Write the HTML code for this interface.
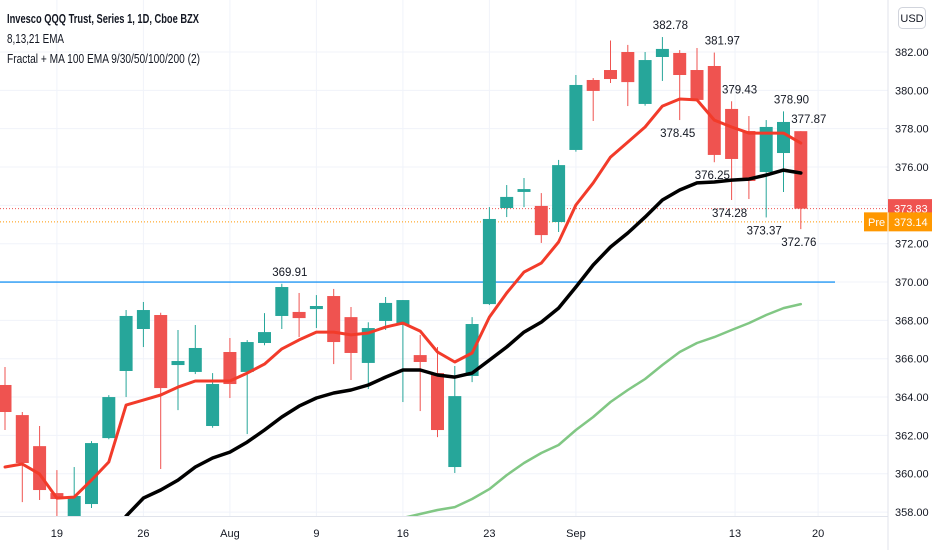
<!DOCTYPE html>
<html><head><meta charset="utf-8"><style>
html,body{margin:0;padding:0;background:#fff;}
svg{display:block;font-family:"Liberation Sans",sans-serif;}
</style></head><body>
<svg id="chart" width="932" height="550" viewBox="0 0 932 550" xmlns="http://www.w3.org/2000/svg">
<rect width="932" height="550" fill="#ffffff"/>
<g id="grid"></g>
<g id="marks"></g>
<g id="labels"></g>
<line x1="888" y1="0" x2="888" y2="550" stroke="#e0e3eb"/>
<line x1="0" y1="516.5" x2="888" y2="516.5" stroke="#e0e3eb"/>
<g fill="#131722" font-size="12.5">
<text x="7" y="23" font-weight="bold" textLength="192" lengthAdjust="spacingAndGlyphs">Invesco QQQ Trust, Series 1, 1D, Cboe BZX</text>
<text x="7" y="43" textLength="57" lengthAdjust="spacingAndGlyphs">8,13,21 EMA</text>
<text x="7" y="63" textLength="193" lengthAdjust="spacingAndGlyphs">Fractal + MA 100 EMA 9/30/50/100/200 (2)</text>
</g>
<g>
<rect x="898.5" y="7.5" width="27" height="21" rx="4" fill="#fff" stroke="#d1d4dc"/>
<text x="912" y="22" font-size="11" text-anchor="middle" fill="#131722">USD</text>
</g>
</svg>
<script>
const opens  = [364.63,363.06,361.44,358.99,357.69,358.42,361.86,365.36,367.55,368.28,365.67,365.31,362.49,366.35,365.31,366.82,368.23,368.44,368.59,369.27,368.17,365.78,367.97,367.76,366.19,365.25,360.35,365.10,368.85,373.86,374.70,373.97,373.13,376.89,380.54,381.06,382.00,379.29,381.74,381.95,381.06,381.27,379.03,377.88,375.74,376.73,377.87];
const highs  = [365.57,363.22,362.49,360.19,360.35,361.70,364.10,368.54,368.96,368.40,367.50,367.76,365.25,367.08,366.97,368.38,369.91,369.43,369.32,369.64,368.70,367.90,369.22,369.06,367.24,366.61,365.62,368.17,373.91,375.06,375.43,374.64,376.37,380.80,380.64,382.60,382.37,382.00,382.78,382.10,382.21,381.97,379.43,378.66,378.45,378.90,377.87];
const lows   = [362.28,358.52,358.63,357.58,357.48,358.21,361.80,364.00,366.61,360.25,363.32,365.20,362.40,363.95,362.07,366.70,367.55,367.13,367.60,365.72,364.89,364.42,367.50,363.74,363.27,361.91,360.04,364.78,368.80,373.39,373.91,372.04,372.61,376.80,378.40,380.38,379.18,379.20,380.49,378.45,379.40,376.25,374.28,374.33,373.37,374.70,372.76];
const closes = [363.22,360.56,359.15,358.68,358.84,361.60,364.00,368.23,368.54,364.47,365.88,366.56,364.68,364.68,366.87,367.39,369.74,368.12,368.75,366.87,366.30,367.60,368.91,369.06,365.83,362.28,364.05,367.81,373.29,374.44,374.85,372.45,376.10,380.28,379.97,380.59,380.43,381.58,382.16,380.80,379.50,376.63,376.42,375.27,378.09,378.35,373.83];
const ema8 = [360.35,360.51,359.98,358.73,358.78,359.67,360.61,363.58,363.84,364.11,364.52,364.84,364.84,364.84,365.25,365.72,366.51,366.98,367.39,367.39,367.24,367.34,367.65,367.86,367.44,366.35,365.83,366.30,368.17,369.43,370.52,370.99,372.09,374.02,375.17,376.52,377.30,378.09,379.18,379.55,379.50,378.45,378.09,377.77,377.77,377.77,377.25];
const ema21Start = 7;
const ema21 = [357.79,358.73,359.15,359.67,360.35,360.82,361.13,361.65,362.28,362.96,363.53,363.95,364.21,364.37,364.63,365.04,365.41,365.41,365.15,365.04,365.25,365.93,366.61,367.39,367.91,368.64,369.74,370.89,371.83,372.56,373.39,374.28,374.80,375.17,375.22,375.32,375.37,375.58,375.84,375.69];
const ma100Start = 23;
const ma100 = [357.69,357.90,358.11,358.26,358.68,359.20,359.93,360.56,361.08,361.50,362.28,362.96,363.74,364.37,364.94,365.67,366.35,366.82,367.13,367.50,367.86,368.28,368.64,368.85];
const priceTicks = [358,360,362,364,366,368,370,372,374,376,378,380,382];
const dateLabels = ["19","26","Aug","9","16","23","Sep","13","20"];
const dateIdx = [3,8,13,18,23,28,33,42.2,47];
const fractalHighIdx = [16,38,41,42,45,46];
const fractalLowIdx = [39,41,42,44,46];
const hLineLevel = 370;
const lastPrice = 373.83;
const prePrice = 373.14;

const NS = "http://www.w3.org/2000/svg";
const yOf = p => 52 + (382 - p) * 19.17;
const xOf = i => 5 + i * 17.3;
function mk(tag, attrs, parent) {
  const e = document.createElementNS(NS, tag);
  for (const k in attrs) e.setAttribute(k, attrs[k]);
  parent.appendChild(e);
  return e;
}
const grid = document.getElementById('grid');
const marks = document.getElementById('marks');
const labels = document.getElementById('labels');

priceTicks.forEach(p => {
  const y = yOf(p);
  const gl = mk('line', {x1:0, x2:888, y1:y, y2:y, stroke:'#f0f3fa'}, grid);
  
  
  const t = mk('text', {x:895, y:y+4, 'font-size':11, fill:'#131722'}, labels);
  t.textContent = p.toFixed(2);
  
  
});
dateLabels.forEach((d, k) => {
  const x = xOf(dateIdx[k]);
  const gl = mk('line', {x1:x, x2:x, y1:0, y2:516, stroke:'#f0f3fa'}, grid);
  
  
  const t = mk('text', {x:x, y:537, 'font-size':11, fill:'#131722', 'text-anchor':'middle'}, labels);
  t.textContent = d;
  
  
});

// horizontal level line
const hl = mk('line', {x1:0, x2:835, y1:yOf(hLineLevel), y2:yOf(hLineLevel), stroke:'#2196f3', 'stroke-width':1.3}, marks);


const lp = mk('line', {x1:0, x2:888, y1:yOf(lastPrice), y2:yOf(lastPrice), stroke:'#ef5350', 'stroke-dasharray':'1 2'}, marks);


const pp = mk('line', {x1:0, x2:888, y1:yOf(prePrice), y2:yOf(prePrice), stroke:'#ff9800', 'stroke-dasharray':'1 2'}, marks);



// candles
opens.forEach((o, i) => {
  const c = closes[i], up = c >= o, col = up ? '#26a69a' : '#ef5350';
  const x = xOf(i);
  const g = mk('g', {}, marks);
  
  
  mk('line', {x1:x, x2:x, y1:yOf(highs[i]), y2:yOf(lows[i]), stroke:col, 'stroke-width':1}, g);
  const top = yOf(Math.max(o, c)), bot = yOf(Math.min(o, c));
  mk('rect', {x:x-6.5, y:top, width:13, height:Math.max(1, bot-top), fill:col}, g);
});

function line(vals, start, color, w, name) {
  const pts = vals.map((v, k) => xOf(start + k).toFixed(1) + ',' + yOf(v).toFixed(1)).join(' ');
  const pl = mk('polyline', {points:pts, fill:'none', stroke:color, 'stroke-width':w, 'stroke-linejoin':'round', 'stroke-linecap':'round'}, marks);
  
  
}
line(ma100, ma100Start, '#81c784', 2.5, 'ma100-line');
line(ema21, ema21Start, '#000000', 3.5, 'ema21-line');
line(ema8, 0, '#f23b2a', 3, 'ema8-line');

// clip below time axis
const cover = mk('rect', {x:0, y:517, width:888, height:33, fill:'#fff'}, marks);


labels.parentNode.appendChild(labels);

fractalHighIdx.forEach(i => {
  const t = mk('text', {x:xOf(i)+8, y:yOf(highs[i])-8, 'font-size':11.5, fill:'#131722', 'text-anchor':'middle'}, labels);
  t.textContent = highs[i].toFixed(2);
  
  
});
fractalLowIdx.forEach(i => {
  const t = mk('text', {x:xOf(i)-2, y:yOf(lows[i])+17, 'font-size':11.5, fill:'#131722', 'text-anchor':'middle'}, labels);
  t.textContent = lows[i].toFixed(2);
  
  
});

// price badges
const yl = yOf(lastPrice);
const b1 = mk('rect', {x:888, y:yl-9.5, width:44, height:19, fill:'#ef5350'}, labels);


const t1 = mk('text', {x:894, y:yl+4, 'font-size':11, fill:'#fff'}, labels);
t1.textContent = lastPrice.toFixed(2);


const yp = yOf(prePrice);
const b2 = mk('rect', {x:864, y:yp-9.5, width:68, height:19, fill:'#ff9800'}, labels);


const sep = mk('line', {x1:888, x2:888, y1:yp-9.5, y2:yp+9.5, stroke:'#fff', 'stroke-width':1}, labels);


const t2 = mk('text', {x:868, y:yp+4, 'font-size':11, fill:'#fff'}, labels);
t2.textContent = 'Pre';


const t3 = mk('text', {x:894, y:yp+4, 'font-size':11, fill:'#fff'}, labels);
t3.textContent = prePrice.toFixed(2);


</script>
</body></html>
